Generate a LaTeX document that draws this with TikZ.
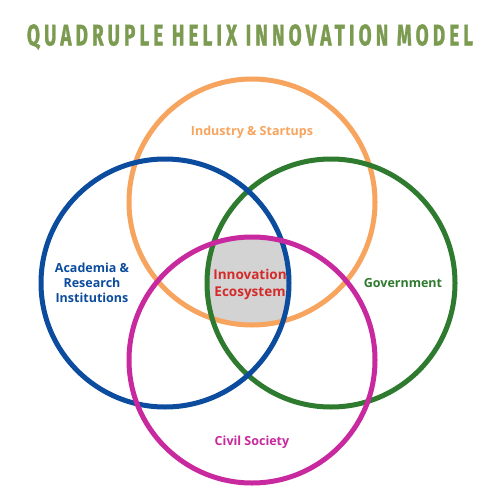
\documentclass[tikz,border=0pt]{standalone}
\usepackage{fontspec}
\setmainfont{Open Sans}
\newfontfamily\titlefont[LetterSpace=22,FakeBold=1.5]{Fira Sans}
\definecolor{cOrange}{HTML}{F7A45E}
\definecolor{cBlue}{HTML}{0C4C9E}
\definecolor{cGreen}{HTML}{2E7A2E}
\definecolor{cMag}{HTML}{C8299E}
\definecolor{cTitle}{HTML}{7B9B50}
\definecolor{cRed}{HTML}{D42A2A}
\definecolor{cGray}{HTML}{D3D3D3}
\begin{document}
\begin{tikzpicture}[x=1pt,y=-1pt,
  ring/.style={line width=5pt},
  lab/.style={font=\bfseries\fontsize{12.5}{15}\selectfont, align=center}]
\useasboundingbox (0,0) rectangle (500,500);
\fill[white] (0,0) rectangle (500,500);
\coordinate (cI) at (252,202);
\coordinate (cA) at (165,283);
\coordinate (cG) at (331,283);
\coordinate (cC) at (252,360);
\begin{scope}
  \clip (cI) circle (123);
  \clip (cA) circle (124);
  \clip (cG) circle (124);
  \clip (cC) circle (123);
  \fill[cGray] (0,0) rectangle (500,500);
\end{scope}
\draw[ring, cOrange] (cI) circle (123);
\draw[ring, cGreen] (cG) circle (124);
\draw[ring, cBlue] (cA) circle (124);
\draw[ring, cMag] (cC) circle (123);
\node[lab, text=cOrange] (ind) at (252,132) {Industry \& Startups};
\node[lab, text=cBlue] (aca) at (92,283) {Academia \&\\Research\\Institutions};
\node[lab, text=cGreen] (gov) at (403,283) {Government};
\node[lab, text=cMag] (civ) at (252,442) {Civil Society};
\node[lab, text=cRed, font=\bfseries\fontsize{13.5}{17}\selectfont] (eco) at (250,284) {Innovation\\Ecosystem};
\node[text=cTitle, inner sep=0] (title) at (250,37) {\resizebox{446pt}{21pt}{\titlefont\bfseries QUADRUPLE HELIX INNOVATION MODEL}};
\end{tikzpicture}
\end{document}
